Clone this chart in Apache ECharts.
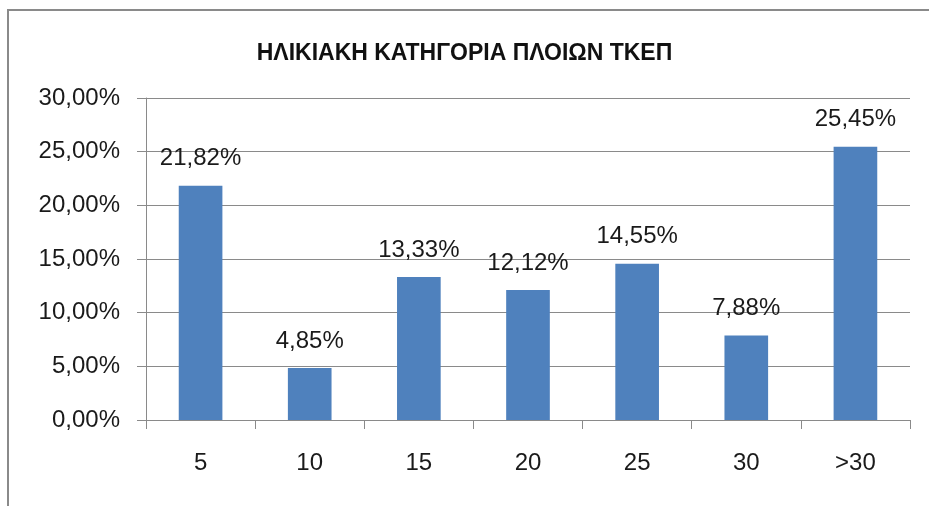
<!DOCTYPE html>
<html>
<head>
<meta charset="utf-8">
<script src="https://cdn.jsdelivr.net/npm/echarts@6/dist/echarts.min.js"></script>
<style>
  html, body { margin: 0; padding: 0; background: #fff; }
  #main { width: 929px; height: 506px; }
</style>
</head>
<body>
<div id="main"></div>
<script>
// δεδομένα
var chartTitle = 'ΗΛΙΚΙΑΚΗ ΚΑΤΗΓΟΡΙΑ ΠΛΟΙΩΝ ΤΚΕΠ';
var categories = ['5', '10', '15', '20', '25', '30', '>30'];
var percentages = [21.82, 4.85, 13.33, 12.12, 14.55, 7.88, 25.45];
var yMin = 0, yMax = 30, yStep = 5;

function pct(v) {
  return v.toFixed(2).replace('.', ',') + '%';
}

var myChart = echarts.init(document.getElementById('main'));
var gray = '#8a8a8a';
var font = 'Liberation Sans';

var option = {
  animation: false,
  backgroundColor: '#fff',
  title: {
    text: chartTitle,
    left: 'center',
    top: 37,
    textStyle: { fontFamily: font, fontSize: 23, fontWeight: 'bold', color: '#111' }
  },
  graphic: [{
    type: 'rect',
    shape: { x: 8, y: 10, width: 1000, height: 600 },
    style: { fill: 'none', stroke: gray, lineWidth: 2 },
    silent: true
  }],
  grid: { left: 146, right: 19, top: 98, bottom: 86 },
  xAxis: {
    type: 'category',
    data: categories,
    axisLine: { lineStyle: { color: gray } },
    axisTick: { show: true, length: 9, lineStyle: { color: gray } },
    axisLabel: { margin: 31, fontFamily: font, fontSize: 24, color: '#1a1a1a' }
  },
  yAxis: {
    type: 'value',
    min: yMin, max: yMax, interval: yStep,
    axisLine: { show: true, lineStyle: { color: gray } },
    axisTick: { show: true, length: 9, lineStyle: { color: gray } },
    splitLine: { lineStyle: { color: gray } },
    axisLabel: { margin: 26, fontFamily: font, fontSize: 24, color: '#1a1a1a', formatter: pct }
  },
  series: [{
    type: 'bar',
    data: percentages,
    barWidth: '40%',
    itemStyle: { color: '#4F81BD' },
    label: {
      show: true,
      position: 'top',
      distance: 15,
      fontFamily: font,
      fontSize: 24,
      color: '#1a1a1a',
      formatter: function (p) { return pct(p.value); }
    }
  }]
};

myChart.setOption(option);
</script>
</body>
</html>
